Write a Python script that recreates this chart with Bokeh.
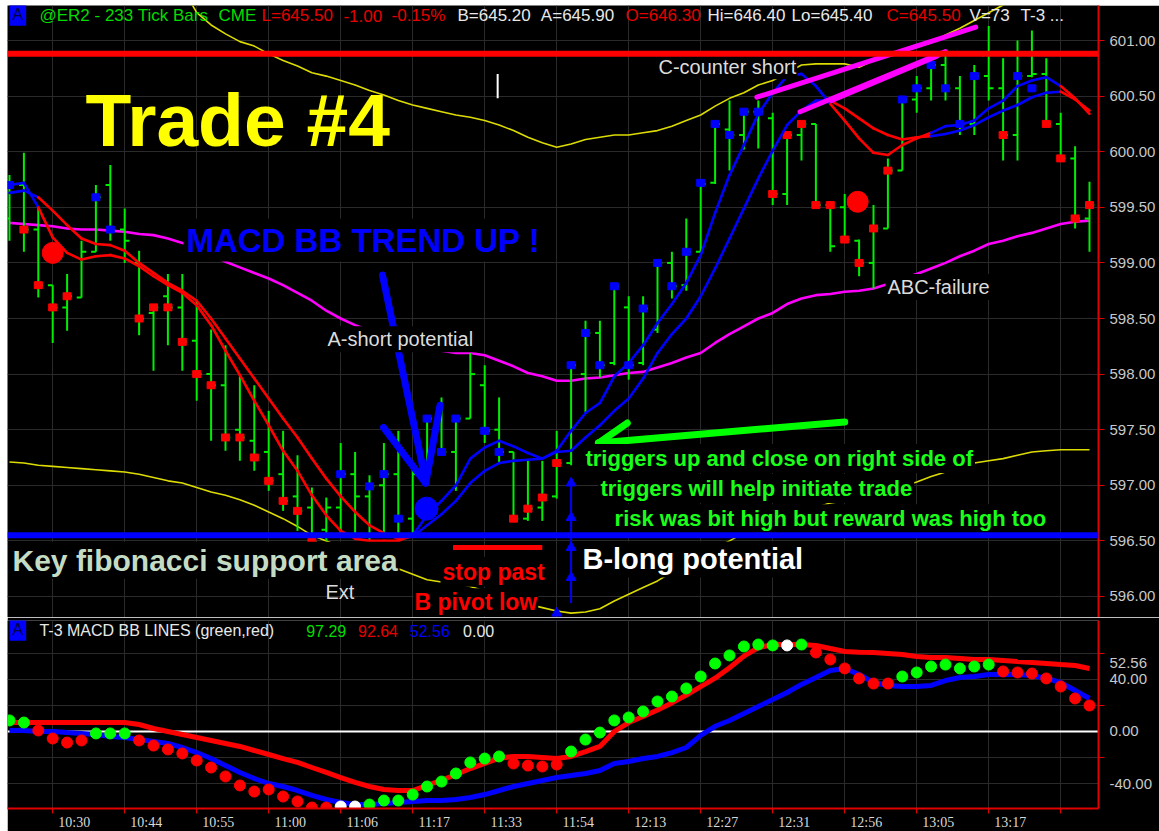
from bokeh.plotting import figure
from bokeh.models import Range1d, FixedTicker, Label, Span, NumeralTickFormatter
from bokeh.layouts import column
from bokeh.embed import file_html
from bokeh.resources import INLINE

# ---------------- price bars (233 tick bars, @ER2) ----------------
high = [599.79, 599.99, 599.50, 598.80, 598.90, 599.20, 599.70, 599.88, 599.49, 599.11,
        598.62, 598.90, 598.90, 598.66, 598.40, 598.26, 597.99, 597.90, 597.67, 597.49,
        597.27, 596.98, 596.89, 597.38, 597.30, 597.09, 597.38, 597.49, 597.20, 597.60,
        597.79, 597.61, 598.19, 598.08, 597.79, 597.30, 597.22, 597.22, 597.49, 598.08,
        598.48, 598.48, 598.79, 598.70, 598.70, 599.00, 599.10, 599.40, 599.71, 600.25,
        600.46, 600.36, 600.46, 600.35, 600.15, 600.27, 600.25, 599.52, 599.62, 599.21,
        599.52, 599.94, 600.47, 600.68, 600.78, 600.87, 600.68, 600.78, 601.13, 600.84,
        601.00, 601.09, 600.84, 600.35, 600.05, 599.73]
low = [599.20, 599.10, 598.69, 598.28, 598.39, 598.69, 599.10, 599.20, 599.00, 598.35,
       598.03, 598.26, 598.03, 597.76, 597.40, 597.31, 597.22, 597.13, 596.95, 596.77,
       596.59, 596.46, 596.50, 596.53, 596.57, 596.48, 596.57, 596.57, 596.57, 597.04,
       597.29, 596.95, 597.60, 597.38, 597.20, 596.68, 596.68, 596.68, 596.88, 597.18,
       597.65, 597.97, 598.08, 597.95, 598.08, 598.37, 598.68, 598.75, 599.10, 599.71,
       599.83, 600.02, 600.03, 599.52, 599.52, 599.92, 599.50, 599.10, 599.20, 598.88,
       598.77, 599.31, 599.83, 600.35, 600.46, 600.46, 600.15, 600.15, 600.46, 599.92,
       599.92, 600.67, 600.25, 599.94, 599.31, 599.10]
opens = [599.40, 599.70, 599.30, 598.80, 598.60, 598.69, 599.10, 599.70, 599.30, 599.00,
         598.55, 598.70, 598.60, 598.30, 598.00, 597.90, 597.50, 597.40, 597.30, 597.10,
         596.90, 596.80, 596.60, 596.80, 597.10, 596.90, 597.00, 597.10, 596.70, 597.10,
         597.60, 597.30, 597.60, 597.90, 597.50, 597.30, 596.70, 596.80, 596.90, 597.20,
         598.00, 598.37, 598.10, 598.60, 598.10, 598.40, 599.00, 598.80, 599.10, 599.72,
         600.20, 600.15, 600.36, 600.30, 599.62, 600.15, 600.25, 599.52, 599.50, 599.20,
         599.00, 599.31, 599.83, 600.47, 600.57, 600.78, 600.57, 600.25, 600.68, 600.57,
         600.15, 600.68, 600.70, 600.25, 599.94, 599.40]
closes = [599.70, 599.30, 598.80, 598.60, 598.70, 599.10, 599.59, 599.30, 599.20, 598.50,
          598.60, 598.60, 598.29, 598.00, 597.90, 597.43, 597.43, 597.25, 597.04, 596.86,
          596.77, 596.49, 596.80, 597.10, 596.90, 596.99, 597.10, 596.70, 597.10, 597.60,
          597.30, 597.60, 598.00, 597.49, 597.30, 596.70, 596.79, 596.89, 597.20, 598.08,
          598.37, 598.08, 598.79, 598.08, 598.59, 599.00, 598.79, 599.10, 599.71, 600.25,
          600.15, 600.36, 600.36, 599.62, 600.15, 600.25, 599.52, 599.15, 599.21, 599.00,
          599.31, 599.83, 600.47, 600.57, 600.78, 600.57, 600.25, 600.68, 600.57, 600.15,
          600.68, 600.70, 600.25, 599.94, 599.40, 599.52]
N = None
signal_price = [599.70, 599.30, 598.80, 598.60, 598.70, N, 599.59, 599.30, N, 598.50,
                598.60, 598.60, 598.29, 598.00, 597.90, 597.43, 597.43, 597.25, 597.04, 596.86,
                596.77, 596.49, N, 597.10, N, 596.99, 597.10, 596.70, N, 597.60,
                597.30, 597.60, N, 597.49, 597.30, 596.70, 596.79, 596.89, 597.20, 598.08,
                598.37, 598.08, 598.79, 598.08, 598.59, 599.00, 598.79, 599.10, 599.72, 600.25,
                600.15, 600.36, 600.36, 599.62, 600.15, 600.25, 599.52, 599.52, 599.21, 599.00,
                599.31, 599.83, 600.47, 600.57, 600.78, 600.57, 600.25, 600.68, N, 600.15,
                600.68, 600.57, 600.25, 599.94, 599.40, 599.52]
signal_side = ["b", "r", "r", "r", "r", "", "b", "b", "", "r",
               "r", "r", "r", "r", "r", "r", "r", "r", "r", "r",
               "r", "r", "", "b", "", "b", "b", "b", "", "b",
               "b", "b", "", "b", "b", "r", "r", "r", "r", "b",
               "b", "b", "b", "b", "b", "b", "b", "b", "b", "b",
               "b", "b", "b", "r", "r", "r", "r", "r", "r", "r",
               "r", "r", "b", "b", "b", "b", "b", "b", "", "r",
               "b", "b", "r", "r", "r", "r"]

# ---------------- overlays ----------------
trig_fast = [599.70, 599.72, 599.50, 599.23, 599.09, 599.03, 599.06, 599.07, 599.04, 598.97,
             598.88, 598.80, 598.73, 598.62, 598.44, 598.21, 597.99, 597.76, 597.54, 597.31,
             597.13, 596.91, 596.73, 596.59, 596.52, 596.50, 596.50, 596.50, 596.55, 596.73,
             596.86, 597.00, 597.24, 597.34, 597.40, 597.35, 597.29, 597.24, 597.31, 597.49,
             597.65, 597.74, 597.98, 598.10, 598.26, 598.46, 598.63, 598.82, 599.07, 599.45,
             599.79, 600.06, 600.34, 600.53, 600.68, 600.70, 600.59, 600.43, 600.28, 600.12,
             599.99, 599.97, 600.06, 600.12, 600.17, 600.23, 600.24, 600.28, 600.39, 600.46,
             600.59, 600.64, 600.67, 600.59, 600.48, 600.34]
trig_slow = [599.63, 599.65, 599.59, 599.47, 599.34, 599.22, 599.17, 599.16, 599.11, 599.00,
             598.91, 598.82, 598.75, 598.66, 598.50, 598.32, 598.14, 597.96, 597.78, 597.60,
             597.43, 597.24, 597.06, 596.90, 596.76, 596.64, 596.57, 596.52, 596.54, 596.64,
             596.74, 596.86, 597.02, 597.13, 597.20, 597.22, 597.23, 597.24, 597.30, 597.31,
             597.43, 597.54, 597.67, 597.78, 597.96, 598.19, 598.36, 598.50, 598.70, 598.95,
             599.22, 599.49, 599.76, 600.01, 600.24, 600.37, 600.46, 600.46, 600.39, 600.30,
             600.21, 600.15, 600.11, 600.13, 600.14, 600.16, 600.19, 600.24, 600.31, 600.37,
             600.42, 600.49, 600.53, 600.54, 600.47, 600.37]
# 1 = trigger trend up (blue), 0 = down (red), per segment i -> i+1
trig_up = [1, 1, 0, 0, 0, 0, 0, 0, 0, 0,
           0, 0, 0, 0, 0, 0, 0, 0, 0, 0,
           0, 0, 0, 0, 0, 0, 0, 0, 1, 1,
           1, 1, 1, 1, 1, 1, 1, 1, 1, 1,
           1, 1, 1, 1, 1, 1, 1, 1, 1, 1,
           1, 1, 1, 1, 1, 1, 1, 0, 0, 0,
           0, 0, 0, 0, 1, 1, 1, 1, 1, 1,
           1, 1, 1, 0, 0]
bb_mid = [599.36, 599.35, 599.34, 599.33, 599.31, 599.30, 599.30, 599.29, 599.28, 599.26,
          599.25, 599.22, 599.18, 599.13, 599.07, 599.01, 598.96, 598.91, 598.86, 598.80,
          598.73, 598.66, 598.57, 598.50, 598.44, 598.39, 598.35, 598.30, 598.27, 598.24,
          598.21, 598.19, 598.19, 598.17, 598.12, 598.07, 598.01, 597.98, 597.94, 597.94,
          597.96, 597.97, 597.99, 598.01, 598.02, 598.06, 598.10, 598.15, 598.19, 598.28,
          598.36, 598.43, 598.50, 598.55, 598.63, 598.68, 598.71, 598.72, 598.74, 598.75,
          598.77, 598.81, 598.86, 598.90, 598.95, 599.00, 599.06, 599.11, 599.17, 599.20,
          599.24, 599.27, 599.31, 599.35, 599.37, 599.38]
bb_upper = [602.60, 602.50, 602.40, 602.30, 602.20, 602.10, 602.00, 601.90, 601.82, 601.75,
            601.68, 601.60, 601.48, 601.25, 601.14, 601.06, 600.99, 600.95, 600.88, 600.82,
            600.77, 600.71, 600.68, 600.64, 600.60, 600.55, 600.51, 600.46, 600.42, 600.39,
            600.36, 600.33, 600.31, 600.28, 600.24, 600.19, 600.13, 600.08, 600.04, 600.07,
            600.11, 600.13, 600.15, 600.15, 600.17, 600.19, 600.23, 600.28, 600.33, 600.41,
            600.48, 600.53, 600.60, 600.64, 600.71, 600.78, 600.79, 600.79, 600.79, 600.76,
            600.82, 600.87, 600.90, 600.94, 600.98, 601.05, 601.11, 601.18, 601.25, 601.32,
            601.38, 601.42, 601.45, 601.45, 601.43, 601.40]
bb_lower = [597.21, 597.20, 597.18, 597.17, 597.16, 597.15, 597.14, 597.13, 597.12, 597.10,
            597.07, 597.04, 597.02, 596.98, 596.94, 596.91, 596.87, 596.82, 596.76, 596.70,
            596.63, 596.55, 596.50, 596.45, 596.39, 596.32, 596.28, 596.25, 596.20, 596.15,
            596.13, 596.12, 596.09, 596.05, 596.01, 595.96, 595.93, 595.90, 595.87, 595.85,
            595.86, 595.89, 595.96, 596.02, 596.08, 596.14, 596.22, 596.29, 596.36, 596.44,
            596.50, 596.57, 596.62, 596.67, 596.72, 596.76, 596.80, 596.84, 596.86, 596.89,
            596.92, 596.95, 596.99, 597.03, 597.08, 597.12, 597.16, 597.20, 597.22, 597.24,
            597.27, 597.30, 597.31, 597.32, 597.32, 597.32]

# ---------------- T-3 MACD BB LINES ----------------
macd_red = [6.9, 6.9, 6.9, 6.9, 6.9, 6.9, 6.9, 6.9, 6.9, 5.4,
            2.3, 0.0, -2.3, -4.6, -6.9, -9.2, -11.5, -14.6, -17.7, -20.8,
            -23.8, -27.7, -31.5, -35.4, -39.2, -42.3, -44.6, -45.4, -45.4, -41.5,
            -37.5, -33.1, -28.5, -24.6, -20.5, -19.2, -19.2, -20.0, -20.8, -19.2,
            -15.4, -11.5, 0.0, 6.9, 11.5, 16.5, 22.0, 28.0, 34.5, 41.0,
            49.0, 58.0, 64.5, 66.9, 66.9, 66.9, 66.2, 63.8, 61.5, 61.0,
            60.8, 60.0, 59.2, 57.7, 56.9, 56.9, 56.2, 55.4, 55.4, 54.6,
            53.8, 53.1, 52.3, 51.5, 50.8, 48.5]
macd_blue = [0.8, 0.8, 0.0, 0.0, -0.8, -1.5, -2.3, -3.8, -4.6, -6.2,
             -7.7, -9.2, -12.3, -16.2, -20.8, -26.2, -31.5, -36.2, -40.0, -42.3,
             -45.4, -49.2, -52.3, -54.6, -56.2, -56.2, -55.4, -54.6, -53.8, -53.1,
             -53.1, -52.3, -50.8, -48.5, -45.4, -42.3, -40.0, -37.7, -35.4, -33.8,
             -32.3, -30.0, -24.6, -23.1, -20.8, -19.2, -16.2, -12.3, -3.0, 4.0,
             8.5, 13.8, 19.2, 24.6, 30.0, 36.2, 41.5, 46.9, 48.5, 43.8,
             37.7, 35.4, 34.6, 34.6, 35.4, 39.2, 41.5, 42.3, 43.8, 43.8,
             43.8, 43.1, 40.8, 37.7, 31.5, 25.4]
macd_dots = [8.5, 6.9, 0.8, -5.4, -8.5, -6.9, -1.5, -1.5, -1.5, -6.9,
             -10.8, -13.8, -16.9, -22.3, -27.7, -34.6, -41.5, -46.2, -44.6, -50.0,
             -53.8, -58.5, -58.5, -57.7, -57.7, -56.2, -53.1, -53.1, -48.5, -42.3,
             -38.5, -32.3, -23.8, -20.8, -19.2, -24.6, -26.2, -26.9, -25.4, -15.4,
             -6.2, -0.8, 8.5, 10.8, 15.4, 23.1, 26.9, 33.1, 42.3, 52.3,
             58.5, 65.4, 66.9, 66.2, 66.2, 66.9, 60.8, 55.4, 48.5, 40.8,
             36.9, 36.9, 42.3, 45.4, 50.0, 51.5, 48.5, 50.0, 51.5, 46.2,
             45.4, 44.6, 40.8, 34.6, 25.4, 20.0]
dot_state = ["g", "g", "r", "r", "r", "r", "g", "g", "g", "r",
             "r", "r", "r", "r", "r", "r", "r", "r", "r", "r",
             "r", "r", "r", "w", "w", "g", "g", "g", "g", "g",
             "g", "g", "g", "g", "g", "r", "r", "r", "r", "g",
             "g", "g", "g", "g", "g", "g", "g", "g", "g", "g",
             "g", "g", "g", "g", "w", "g", "r", "r", "r", "r",
             "r", "r", "g", "g", "g", "g", "g", "g", "g", "r",
             "r", "r", "r", "r", "r", "r"]
macd_last_blue = 52.56

# ---------------- axes text ----------------
price_ticks = [596.0, 596.5, 597.0, 597.5, 598.0, 598.5, 599.0, 599.5, 600.0, 600.5, 601.0]
time_labels = ["10:30", "10:44", "10:55", "11:00", "11:06", "11:17", "11:33", "11:54",
               "12:13", "12:27", "12:31", "12:56", "13:05", "13:17"]
grid_bars = [3, 8, 13, 18, 23, 28, 33, 38, 43, 48, 53, 58, 63, 68, 73]

# ---------------- hand drawn annotations (bar index, price) ----------------
resistance_level = 600.88
support_level = 596.55
big_red_dots_x = [3.0, 58.9]
big_red_dots_y = [599.09, 599.55]
big_blue_dot = (28.96, 596.79)
blue_arrow_x0 = [25.9, 25.97, 29.9]
blue_arrow_y0 = [598.89, 597.52, 597.72]
blue_arrow_x1 = [28.9, 28.9, 28.9]
blue_arrow_y1 = [597.04, 597.02, 597.02]
green_arrow_x0 = [58.0, 42.9, 44.0]
green_arrow_y0 = [597.57, 597.56, 597.30]
green_arrow_x1 = [40.9, 40.9, 40.9]
green_arrow_y1 = [597.38, 597.38, 597.38]
counter_x0 = [51.9, 54.9, 57.1]
counter_y0 = [600.49, 600.36, 600.46]
counter_x1 = [67.1, 65.0, 64.4]
counter_y1 = [601.12, 600.90, 600.86]
stop_line = (30.8, 37.0, 596.44)
up_stack_x = 39.0
up_stack_y = [597.02, 596.71, 596.44, 596.17]
up_stack_bottom = 595.94
pivot_tri = (38.0, 595.85)
cursor_mark = (33.9, 600.70, 600.48)

FONT = "Liberation Sans"
BG = "#000000"
GRID = "#2a2a2a"
AXRED = "#e00000"
GREEN_BAR = "#00ee00"
RED = "#ff0000"
BLUE = "#0000ff"

idx = list(range(len(high)))
xr = Range1d(-0.139, 75.625)
TOP_PPU = 612 / (601.315 - 595.811)      # px per price unit
LOW_PPU = 188 / (85.38 + 59.23)          # px per MACD unit

p = figure(x_range=xr, y_range=Range1d(595.811, 601.315), frame_width=1091, frame_height=612,
           y_axis_location="right", x_axis_location=None, toolbar_location=None,
           output_backend="svg", background_fill_color=BG, border_fill_color=BG,
           min_border_left=0, min_border_right=61, min_border_top=0, min_border_bottom=0,
           outline_line_color=None)
ya = p.yaxis[0]
ya.ticker = FixedTicker(ticks=price_ticks)
ya.formatter = NumeralTickFormatter(format="0.00")
ya.axis_line_color = AXRED
ya.axis_line_width = 2
ya.major_tick_line_color = AXRED
ya.major_tick_out = 6
ya.major_tick_in = 0
ya.minor_tick_line_color = None
ya.major_label_text_color = "#c8c8c8"
ya.major_label_text_font = FONT
ya.major_label_text_font_size = "15px"
ya.major_label_standoff = 5
p.xgrid.ticker = FixedTicker(ticks=grid_bars)
p.xgrid.grid_line_color = GRID
p.ygrid.grid_line_color = GRID

# bands
p.line(idx, bb_upper, line_color="#dcdc00", line_width=1.6)
p.line(idx, bb_lower, line_color="#dcdc00", line_width=1.6)
p.line(idx, bb_mid, line_color="#ff00ff", line_width=2.6)

# bars
p.segment(x0=idx, y0=low, x1=idx, y1=high, line_color=GREEN_BAR, line_width=2)
p.segment(x0=[i - 0.33 for i in idx], y0=opens, x1=idx, y1=opens, line_color=GREEN_BAR, line_width=2)
p.segment(x0=idx, y0=closes, x1=[i + 0.33 for i in idx], y1=closes, line_color=GREEN_BAR, line_width=2)
sig_y = [float("nan") if v is None else v for v in signal_price]
sig_c = [BLUE if s == "b" else RED for s in signal_side]
p.rect(x=idx, y=sig_y, width=8, height=7, width_units="screen", height_units="screen",
       fill_color=sig_c, line_color=sig_c)

# triggers (two lines coloured by direction)
for series in (trig_slow, trig_fast):
    cols = [BLUE if s == 1 else RED for s in trig_up]
    p.segment(x0=idx[:-1], y0=series[:-1], x1=idx[1:], y1=series[1:],
              line_color=cols, line_width=2.6, line_cap="round")

# hand drawn marks
p.segment(x0=counter_x0, y0=counter_y0, x1=counter_x1, y1=counter_y1,
          line_color="#ff00ff", line_width=5, line_cap="round")
p.scatter(big_red_dots_x, big_red_dots_y, size=21, color=RED)
p.scatter([big_blue_dot[0]], [big_blue_dot[1]], size=23, color=BLUE)
p.segment(x0=blue_arrow_x0, y0=blue_arrow_y0, x1=blue_arrow_x1, y1=blue_arrow_y1,
          line_color=BLUE, line_width=7, line_cap="round")
p.segment(x0=green_arrow_x0, y0=green_arrow_y0, x1=green_arrow_x1, y1=green_arrow_y1,
          line_color="#00ff00", line_width=7, line_cap="round")
p.segment(x0=[stop_line[0]], y0=[stop_line[2]], x1=[stop_line[1]], y1=[stop_line[2]],
          line_color=RED, line_width=5)
p.segment(x0=[up_stack_x], y0=[up_stack_bottom], x1=[up_stack_x], y1=[up_stack_y[0]],
          line_color=BLUE, line_width=2)
p.scatter([up_stack_x] * len(up_stack_y), up_stack_y, marker="triangle", size=10, color=BLUE)
p.scatter([pivot_tri[0]], [pivot_tri[1]], marker="triangle", size=10, color=BLUE)
p.segment(x0=[cursor_mark[0]], y0=[cursor_mark[1]], x1=[cursor_mark[0]], y1=[cursor_mark[2]],
          line_color="white", line_width=2)


def lab(fig, ppu, x, y, text, color, size, bold=False, bg=None, pad=0, font=FONT):
    # y is the wanted baseline; Bokeh draws the alphabetic baseline a bit lower, so lift it
    lift = (0.36 * size + 0.5 * pad) / ppu
    fig.add_layout(Label(x=x, y=y + lift, text=text, text_color=color, text_font=font,
                         text_font_size=f"{size}px", text_font_style="bold" if bold else "normal",
                         text_align="left", text_baseline="alphabetic",
                         background_fill_color=bg, padding=pad))


# header
lab(p, TOP_PPU, 0.0, 601.17, "A", "#000040", 16, bg="#0000ff", pad=3)
header = [("@ER2 - 233 Tick Bars", 2.08, "#00dd00"), ("CME", 14.51, "#00dd00"),
          ("L=645.50", 17.5, "#e60000"), ("-1.00", 23.19, "#e60000"), ("-0.15%", 26.53, "#e60000"),
          ("B=645.20", 31.11, "#e8e8e8"), ("A=645.90", 36.9, "#e8e8e8"),
          ("O=646.30", 42.78, "#e60000"), ("Hi=646.40", 48.47, "#e8e8e8"),
          ("Lo=645.40", 54.31, "#e8e8e8"), ("C=645.50", 60.9, "#e60000"),
          ("V=73", 66.67, "#e8e8e8"), ("T-3 ...", 70.21, "#e8e8e8")]
for t, x, c in header:
    lab(p, TOP_PPU, x, 601.17, t, c, 17)

lab(p, TOP_PPU, 5.28, 600.04, "Trade #4", "#ffff00", 75, bold=True)
lab(p, TOP_PPU, 12.08, 599.085, "MACD BB TREND UP !", BLUE, 33, bold=True, bg=BG, pad=3)
lab(p, TOP_PPU, 21.94, 598.24, "A-short potential", "#dcdcdc", 20, bg=BG, pad=2)
lab(p, TOP_PPU, 45.0, 600.69, "C-counter short", "#dcdcdc", 20, bg=BG, pad=1)
lab(p, TOP_PPU, 60.83, 598.71, "ABC-failure", "#dcdcdc", 20, bg=BG, pad=2)
lab(p, TOP_PPU, 21.94, 595.98, "Ext", "#dcdcdc", 20)
lab(p, TOP_PPU, 0.07, 596.22, "Key fibonacci support area", "#c4dcc4", 30, bold=True, bg=BG, pad=2)
lab(p, TOP_PPU, 29.93, 596.14, "stop past", RED, 23, bold=True, bg=BG, pad=2)
lab(p, TOP_PPU, 28.06, 595.87, "B pivot low", RED, 23, bold=True, bg=BG, pad=1)
lab(p, TOP_PPU, 39.65, 596.23, "B-long potential", "#ffffff", 29, bold=True, bg=BG, pad=2)
lab(p, TOP_PPU, 39.86, 597.16, "triggers up and close on right side of", "#1aff1a", 22, bold=True, bg=BG, pad=2)
lab(p, TOP_PPU, 40.9, 596.89, "triggers will help initiate trade", "#1aff1a", 22, bold=True, bg=BG, pad=2)
lab(p, TOP_PPU, 41.88, 596.62, "risk was bit high but reward was high too", "#1aff1a", 22, bold=True, bg=BG, pad=2)

# drawn level lines sit on top of everything
p.add_layout(Span(location=resistance_level, dimension="width", line_color=RED, line_width=6))
p.add_layout(Span(location=support_level, dimension="width", line_color=BLUE, line_width=6))

# ---------------- lower panel ----------------
q = figure(x_range=xr, y_range=Range1d(-59.23, 85.38), frame_width=1091, frame_height=188,
           y_axis_location="right", x_axis_location="below", toolbar_location=None,
           output_backend="svg", background_fill_color=BG, border_fill_color=BG,
           min_border_left=0, min_border_right=61, min_border_top=3, min_border_bottom=23,
           outline_line_color=None)
qa = q.yaxis[0]
qa.ticker = FixedTicker(ticks=[-40, 0, 40, macd_last_blue], minor_ticks=[-20, 20, 60])
qa.formatter = NumeralTickFormatter(format="0.00")
qa.axis_line_color = AXRED
qa.axis_line_width = 2
qa.major_tick_out = 0
qa.major_tick_in = 0
qa.minor_tick_out = 6
qa.minor_tick_in = 0
qa.minor_tick_line_color = AXRED
qa.major_label_text_color = "#c8c8c8"
qa.major_label_text_font = FONT
qa.major_label_text_font_size = "15px"
qa.major_label_standoff = 5
q.ygrid.ticker = FixedTicker(ticks=[-40, -20, 0, 20, 40, 60])
q.ygrid.grid_line_color = GRID
q.xgrid.ticker = FixedTicker(ticks=grid_bars)
q.xgrid.grid_line_color = GRID

xa = q.xaxis[0]
label_pos = [g + 1.5 for g in grid_bars[:len(time_labels)]]
xa.ticker = FixedTicker(ticks=label_pos, minor_ticks=grid_bars)
xa.major_label_overrides = {pos: t for pos, t in zip(label_pos, time_labels)}
xa.axis_line_color = AXRED
xa.axis_line_width = 2
xa.major_tick_out = 0
xa.major_tick_in = 0
xa.minor_tick_out = 5
xa.minor_tick_in = 0
xa.minor_tick_line_color = AXRED
xa.major_label_text_color = "#d8d8d8"
xa.major_label_text_font = "Liberation Sans Narrow"
xa.major_label_text_font_size = "14px"
xa.major_label_standoff = 1

q.add_layout(Span(location=0, dimension="width", line_color="#ffffff", line_width=2, level="underlay"))
q.line(idx, macd_blue, line_color=BLUE, line_width=5)
q.line(idx, macd_red, line_color=RED, line_width=5)
dot_c = [{"g": "#00ff00", "r": RED, "w": "#ffffff"}[s] for s in dot_state]
q.scatter(idx, macd_dots, size=11, color=dot_c)

lab(q, LOW_PPU, 0.0, 73, "A", "#000040", 16, bg="#0000ff", pad=3)
lab(q, LOW_PPU, 2.08, 73, "T-3 MACD BB LINES  (green,red)", "#e8e8e8", 16)
lab(q, LOW_PPU, 20.6, 73, "97.29", "#00dd00", 16)
lab(q, LOW_PPU, 24.2, 73, "92.64", "#e60000", 16)
lab(q, LOW_PPU, 27.8, 73, "52.56", "#0000ff", 16)
lab(q, LOW_PPU, 31.5, 73, "0.00", "#e8e8e8", 16)

layout = column(p, q, margin=(5, 0, 0, 7))
open("out.html", "w").write(file_html(layout, INLINE, "Trade #4"))
